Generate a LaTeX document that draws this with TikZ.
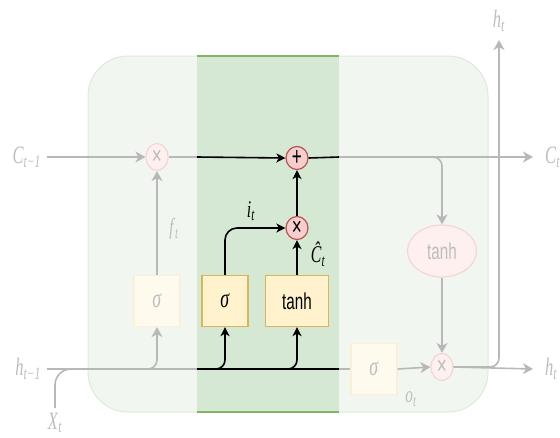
\documentclass[tikz,border=0pt]{standalone}
\usepackage{fontspec}
\setmainfont{Liberation Serif}
\setsansfont{Liberation Sans}
\usepackage{graphicx}
\usetikzlibrary{arrows.meta,shapes.geometric}
\definecolor{gline}{HTML}{B8B8B8}
\definecolor{gtext}{HTML}{BDBDBD}
\definecolor{outfill}{HTML}{F1F7F0}
\definecolor{outdraw}{HTML}{DCEBDA}
\definecolor{bandfill}{HTML}{D5E8D4}
\definecolor{banddraw}{HTML}{82B366}
\definecolor{yfill}{HTML}{FFF2CC}
\definecolor{ydraw}{HTML}{D6B656}
\definecolor{yfillF}{HTML}{FFFAEE}
\definecolor{ydrawF}{HTML}{FBEFD6}
\definecolor{rfill}{HTML}{F8CECC}
\definecolor{rdraw}{HTML}{B85450}
\definecolor{rfillF}{HTML}{FDF0EF}
\definecolor{rdrawF}{HTML}{F3D6D4}
\newcommand{\sq}[1]{\scalebox{0.66}[1]{#1}}
\newcommand{\lbl}[2]{\sq{\textit{#1}\textsubscript{\textit{#2}}}}
\tikzset{
  gl/.style={draw=gline, line width=1.6pt, -{Stealth[length=10pt,width=11pt,inset=3pt]}},
  glp/.style={draw=gline, line width=1.6pt},
  bl/.style={draw=black, line width=1.6pt, -{Stealth[length=9pt,width=9pt,inset=2.5pt]}},
  blp/.style={draw=black, line width=1.6pt},
  ybox/.style={draw=ydraw, fill=yfill, line width=1.2pt, minimum width=46pt, minimum height=51pt, inner sep=0pt, font=\fontsize{27}{27}\selectfont},
  yboxf/.style={draw=ydrawF, fill=yfillF, line width=1.2pt, minimum width=46pt, minimum height=51pt, inner sep=0pt, text=gtext, font=\fontsize{27}{27}\selectfont},
  rop/.style={ellipse, draw=rdraw, fill=rfill, line width=1.2pt, minimum width=22pt, minimum height=23pt, inner sep=0pt, font=\sffamily\fontsize{26}{26}\selectfont},
  ropf/.style={ellipse, draw=rdrawF, fill=rfillF, line width=1.2pt, minimum width=22pt, minimum height=27pt, inner sep=0pt, text=gtext, font=\sffamily\fontsize{26}{26}\selectfont},
  glab/.style={text=gtext, inner sep=0pt, font=\fontsize{25}{25}\selectfont},
  blab/.style={text=black, inner sep=0pt, font=\fontsize{24}{24}\selectfont},
}
\begin{document}
\begin{tikzpicture}[x=1pt,y=-1pt]
\useasboundingbox (0,0) rectangle (560,437);
% outer cell
\filldraw[fill=outfill, draw=outdraw, line width=1pt, rounded corners=40pt] (88,56) rectangle (488,412);
% band
\fill[bandfill] (197,56) rectangle (339,412);
\draw[banddraw, line width=1.5pt] (197,56) -- (339,56);
\draw[banddraw, line width=1.5pt] (197,412) -- (339,412);

% nodes
\node[ropf] (fx) at (157,157) {\sq{×}};
\node[rop] (plus) at (297,158) {\sq{+}};
\node[rop] (cross) at (297,228) {\sq{×}};
\node[ropf] (ox) at (442,367) {\sq{×}};
\node[ellipse, draw=rdrawF, fill=rfillF, line width=1.2pt, minimum width=69pt, minimum height=52pt, inner sep=0pt, text=gtext, font=\sffamily\fontsize{23}{23}\selectfont] (te) at (442,251) {\sq{tanh}};

\node[yboxf] (fs) at (157,301) {\sq{\textit{σ}}};
\node[ybox] (is) at (225,301) {\sq{\textit{σ}}};
\node[ybox, minimum width=63pt, font=\sffamily\fontsize{23}{23}\selectfont] (tb) at (297,301) {\sq{tanh}};
\node[yboxf] (os) at (374,369) {\sq{\textit{σ}}};

% labels
\node[glab, anchor=east] (cprev) at (41,157) {\lbl{C}{t−1}};
\node[glab, anchor=east] (hprev) at (41,369) {\lbl{h}{t−1}};
\node[glab] (xt) at (55,423) {\lbl{X}{t}};
\node[glab, anchor=west] (ct) at (545,157) {\lbl{C}{t}};
\node[glab, anchor=west] (hto) at (545,369) {\lbl{h}{t}};
\node[glab] (htop) at (499,21) {\lbl{h}{t}};
\node[glab, font=\fontsize{23}{23}\selectfont] (ft) at (174,229) {\lbl{f}{t}};
\node[glab, font=\fontsize{23}{23}\selectfont] (ot) at (411,399) {\lbl{o}{t}};
\node[blab] (it) at (251,211) {\lbl{i}{t}};
\node[blab] (cht) at (318,254) {\lbl{Ĉ}{t}};

% coordinates
\coordinate (cin) at (47,157);
\coordinate (cb1) at (197,157);
\coordinate (cb2) at (339,157);
\coordinate (cout) at (533,157);
\coordinate (hin) at (47,369);
\coordinate (hb1) at (197,369);
\coordinate (hb2) at (339,369);
\coordinate (hout) at (533,369);
\coordinate (htip) at (499,40);
\coordinate (xbot) at (55,408);
\coordinate (xj) at (85,369);
\coordinate (fj) at (140,369);
\coordinate (ij) at (205,369);
\coordinate (tj) at (279,369);
\coordinate (cj) at (425,157);

% cell state line
\draw[gl] (cin) -- (fx.west);
\draw[glp] (fx.east) -- (cb1);
\draw[bl] (cb1) -- (plus.west);
\draw[blp] (plus.east) -- (cb2);
\draw[gl] (cb2) -- (cout);
\draw[gl, rounded corners=9pt] (cj) -| (te.north);
\draw[gl] (te.south) -- (ox.north);

% hidden line
\draw[glp] (hin) -- (hb1);
\draw[blp] (hb1) -- (hb2);
\draw[glp] (hb2) -- (os.west);
\draw[gl] (os.east) -- (ox.west);
\draw[gl] (ox.east) -- (hout);
\draw[gl, rounded corners=9pt] (ox.east) -| (htip);
\draw[glp, rounded corners=16pt] (xbot) |- (xj);

% gates
\draw[gl, rounded corners=9pt] (fj) -| (fs.south);
\draw[gl] (fs.north) -- (fx.south);
\draw[bl, rounded corners=9pt] (ij) -| (is.south);
\draw[bl, rounded corners=9pt] (tj) -| (tb.south);
\draw[bl, rounded corners=12pt] (is.north) |- (cross.west);
\draw[bl] (tb.north) -- (cross.south);
\draw[bl] (cross.north) -- (plus.south);
\end{tikzpicture}
\end{document}
